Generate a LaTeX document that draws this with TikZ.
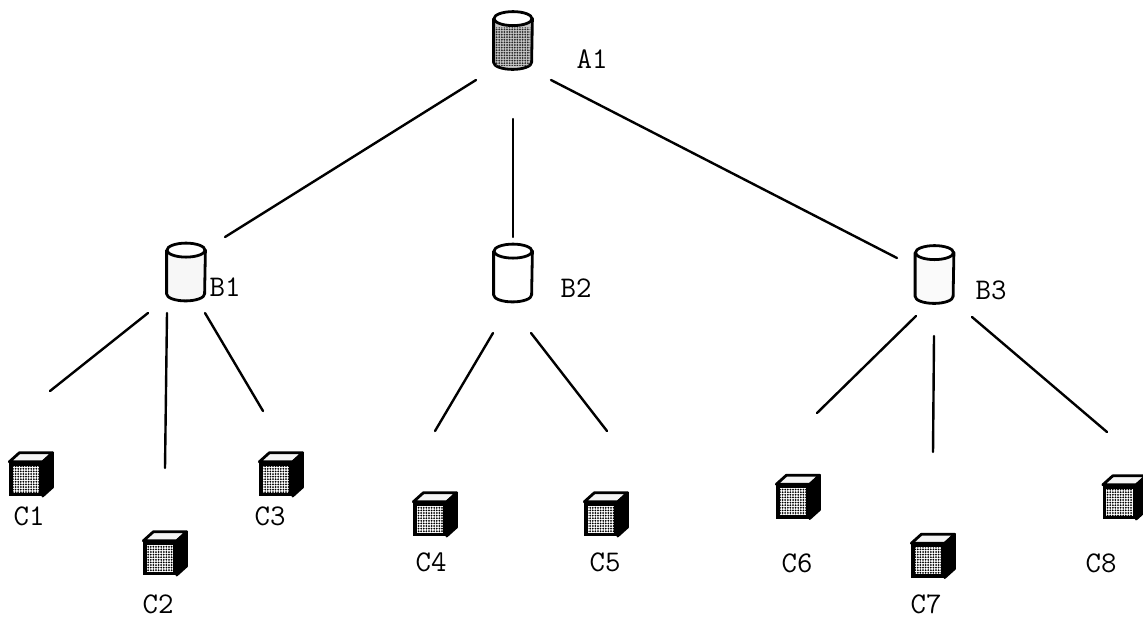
\documentclass[tikz,border=0pt]{standalone}
\usetikzlibrary{calc,patterns}

\pgfdeclarepatternformonly{speckle}{\pgfqpoint{-0.6pt}{-0.6pt}}{\pgfqpoint{1.3pt}{1.3pt}}{\pgfqpoint{1.3pt}{1.3pt}}{%
  \pgfpathcircle{\pgfqpoint{0pt}{0pt}}{0.5pt}\pgfusepath{fill}}

\tikzset{
  store/.style={rectangle, minimum width=19pt, minimum height=28.5pt, inner sep=0pt},
  box/.style={rectangle, draw=black, line width=1.2pt, fill=black, minimum width=15.5pt, minimum height=16pt, inner sep=0pt},
  lbl/.style={font=\ttfamily\fontsize{15}{15}\selectfont, inner sep=0pt},
  link/.style={line width=1.2pt, line cap=round},
  edge line/.style={draw=black, line width=1.4pt, line join=round}
}

\begin{document}
\begin{tikzpicture}[x=0.5pt,y=-0.5pt]
  \useasboundingbox (0,0) rectangle (1143,617);

  \node[store] at (513,40.5) (A1) {};
  \node[store] at (186,272) (B1) {};
  \node[store] at (513,273) (B2) {};
  \node[store] at (934.5,274.5) (B3) {};

  % body and lid of each store
  \foreach \c/\f in {A1/gray!45,B1/gray!6,B2/white,B3/gray!4} {
    \path[edge line, fill=\f] ($(\c.north west)+(0,7)$) -- ($(\c.south west)+(0,-7)$) arc[start angle=180, end angle=360, x radius=9.5pt, y radius=3.5pt] -- ($(\c.north east)+(0,7)$) -- cycle;
    \path[edge line, fill=white] ($(\c.north)+(0,7)$) ellipse [x radius=9.5pt, y radius=3.5pt];
  }
  \fill[pattern=speckle, pattern color=black!85] ($(A1.north west)+(2,16)$) rectangle ($(A1.south east)+(-2,-4)$);

  \node[box] at (26,479) (C1) {};
  \node[box] at (160,558) (C2) {};
  \node[box] at (276,479) (C3) {};
  \node[box] at (430,519) (C4) {};
  \node[box] at (601,519) (C5) {};
  \node[box] at (793,501.5) (C6) {};
  \node[box] at (928,560.5) (C7) {};
  \node[box] at (1119.5,502) (C8) {};

  % top, side and face of each box
  \foreach \c in {C1,C2,C3,C4,C5,C6,C7,C8} {
    \filldraw[fill=gray!8, line width=1.4pt, line join=round] (\c.north west) -- ++(10,-9) -- ($(\c.north east)+(10,-9)$) -- (\c.north east) -- cycle;
    \filldraw[fill=black, line width=1.2pt, line join=round] (\c.north east) -- ++(10,-9) -- ($(\c.south east)+(10,-9)$) -- (\c.south east) -- cycle;
    \fill[white] ($(\c.north west)+(3.5,4)$) rectangle ($(\c.south east)+(-3.5,-3.5)$);
    \fill[pattern=speckle, pattern color=black] ($(\c.north west)+(3.5,4)$) rectangle ($(\c.south east)+(-3.5,-3.5)$);
  }

  \node[lbl] at (592,59) (lA1) {A1};
  \node[lbl] at (225,287) (lB1) {B1};
  \node[lbl] at (576,288) (lB2) {B2};
  \node[lbl] at (991,290) (lB3) {B3};
  \node[lbl] at (29,516) (lC1) {C1};
  \node[lbl] at (158,604) (lC2) {C2};
  \node[lbl] at (270,516) (lC3) {C3};
  \node[lbl] at (431,562) (lC4) {C4};
  \node[lbl] at (605,562) (lC5) {C5};
  \node[lbl] at (797,563) (lC6) {C6};
  \node[lbl] at (926,604) (lC7) {C7};
  \node[lbl] at (1101,563) (lC8) {C8};

  \coordinate (a1l) at ($(A1)+(-37,39.5)$);
  \coordinate (a1m) at ($(A1)+(0,78.5)$);
  \coordinate (a1r) at ($(A1)+(38,39.5)$);
  \coordinate (b1i) at ($(B1)+(39,-35)$);
  \coordinate (b2i) at ($(B2)+(0,-36)$);
  \coordinate (b3i) at ($(B3)+(-37.5,-16.5)$);
  \draw[link] (a1l) -- (b1i);
  \draw[link] (a1m) -- (b2i);
  \draw[link] (a1r) -- (b3i);

  \coordinate (b1l) at ($(B1)+(-38,41)$);
  \coordinate (b1m) at ($(B1)+(-19,41)$);
  \coordinate (b1r) at ($(B1)+(19,41)$);
  \coordinate (c1i) at ($(C1)+(24,-88)$);
  \coordinate (c2i) at ($(C2)+(5,-90)$);
  \coordinate (c3i) at ($(C3)+(-13,-68)$);
  \draw[link] (b1l) -- (c1i);
  \draw[link] (b1m) -- (c2i);
  \draw[link] (b1r) -- (c3i);

  \coordinate (b2l) at ($(B2)+(-20,60)$);
  \coordinate (b2r) at ($(B2)+(18,60)$);
  \coordinate (c4i) at ($(C4)+(5,-88)$);
  \coordinate (c5i) at ($(C5)+(6,-88)$);
  \draw[link] (b2l) -- (c4i);
  \draw[link] (b2r) -- (c5i);

  \coordinate (b3l) at ($(B3)+(-18.5,41.5)$);
  \coordinate (b3m) at ($(B3)+(-0.5,61.5)$);
  \coordinate (b3r) at ($(B3)+(37.5,42.5)$);
  \coordinate (c6i) at ($(C6)+(24,-88.5)$);
  \coordinate (c7i) at ($(C7)+(5,-108.5)$);
  \coordinate (c8i) at ($(C8)+(-12.5,-70)$);
  \draw[link] (b3l) -- (c6i);
  \draw[link] (b3m) -- (c7i);
  \draw[link] (b3r) -- (c8i);
\end{tikzpicture}
\end{document}
